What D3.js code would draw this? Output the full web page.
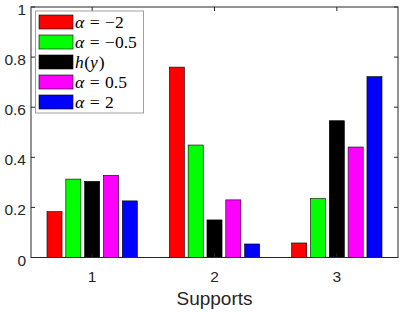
<!DOCTYPE html>
<html>
<head>
<meta charset="utf-8">
<script src="https://cdn.jsdelivr.net/npm/d3@7"></script>
<style>
  body { margin: 0; background: #fff; }
  text { font-family: "Liberation Sans", Arial, sans-serif; fill: #262626; }
  .math { font-family: "Liberation Serif", "DejaVu Serif", serif; fill: #000; }
</style>
</head>
<body>
<div id="chart"></div>
<script>
var groups = [1, 2, 3];
var seriesNames = ['a-2', 'a-0.5', 'h', 'a0.5', 'a2'];
var seriesColors = ['#ff0000', '#00ff00', '#000000', '#ff00ff', '#0000ff'];
// legend labels as tex-ish pieces: [text, italic?, dx]
var legendLabels = [
  [['α', true, 0], ['=', false, 5.5], ['−2', false, 5.5]],
  [['α', true, 0], ['=', false, 5.5], ['−0.5', false, 5.5]],
  [['h', true, 0], ['(', false, 0.5], ['y', true, 0], [')', false, 1]],
  [['α', true, 0], ['=', false, 5.5], ['0.5', false, 5.5]],
  [['α', true, 0], ['=', false, 5.5], ['2', false, 5.5]]
];
// values[series][group]
var values = [
  [0.183, 0.760, 0.058],
  [0.313, 0.449, 0.235],
  [0.304, 0.150, 0.546],
  [0.328, 0.230, 0.441],
  [0.226, 0.054, 0.722]
];
var yTicks = [0, 0.2, 0.4, 0.6, 0.8, 1];

var width = 400, height = 312;
var margin = { left: 31, right: 2, top: 7, bottom: 54.5 };

var svg = d3.select('#chart').append('svg')
  .attr('width', width)
  .attr('height', height);

var x = d3.scaleLinear().domain([0.5, 3.5]).range([margin.left, width - margin.right]);
var y = d3.scaleLinear().domain([0, 1]).range([height - margin.bottom, margin.top]);

// matlab-like grouped bar layout
var n = seriesNames.length;
var groupWidth = Math.min(0.8, n / (n + 1.5));
var barW = groupWidth / n * 0.8;

var barLayer = svg.append('g');
values.forEach(function(vals, si) {
  barLayer.selectAll('rect.s' + si).data(vals)
    .enter().append('rect')
    .attr('class', 's' + si)
    .attr('x', function(d, gi) {
      var c = groups[gi] - groupWidth / 2 + (si + 0.5) * groupWidth / n;
      return x(c - barW / 2);
    })
    .attr('width', x(barW) - x(0))
    .attr('y', function(d) { return y(d); })
    .attr('height', function(d) { return y(0) - y(d); })
    .attr('fill', seriesColors[si])
    .attr('stroke', '#000')
    .attr('stroke-width', 0.6);
});

// axes box
var x0 = x.range()[0], x1 = x.range()[1], y0 = y.range()[0], y1 = y.range()[1];
svg.append('rect')
  .attr('x', x0).attr('y', y1)
  .attr('width', x1 - x0).attr('height', y0 - y1)
  .attr('fill', 'none')
  .attr('stroke', '#262626')
  .attr('stroke-width', 1);

var tickLen = 4;
var axisG = svg.append('g').attr('stroke', '#262626').attr('stroke-width', 1);
yTicks.forEach(function(t) {
  axisG.append('line').attr('x1', x0).attr('x2', x0 + tickLen).attr('y1', y(t)).attr('y2', y(t));
  axisG.append('line').attr('x1', x1).attr('x2', x1 - tickLen).attr('y1', y(t)).attr('y2', y(t));
});
groups.forEach(function(g) {
  axisG.append('line').attr('x1', x(g)).attr('x2', x(g)).attr('y1', y0).attr('y2', y0 - tickLen);
  axisG.append('line').attr('x1', x(g)).attr('x2', x(g)).attr('y1', y1).attr('y2', y1 + tickLen);
});

svg.selectAll('text.ytick').data(yTicks)
  .enter().append('text')
  .attr('class', 'ytick')
  .attr('x', x0 - 5)
  .attr('y', function(d) { return y(d) + 8; })
  .attr('text-anchor', 'end')
  .attr('font-size', 15.5)
  .text(function(d) { return d3.format('~g')(d); });

svg.selectAll('text.xtick').data(groups)
  .enter().append('text')
  .attr('class', 'xtick')
  .attr('x', function(d) { return x(d); })
  .attr('y', y0 + 24)
  .attr('text-anchor', 'middle')
  .attr('font-size', 15.5)
  .text(function(d) { return d; });

svg.append('text')
  .attr('x', (x0 + x1) / 2)
  .attr('y', y0 + 47)
  .attr('text-anchor', 'middle')
  .attr('font-size', 19)
  .text('Supports');

// legend
var leg = svg.append('g');
leg.append('rect')
  .attr('x', 35.5).attr('y', 11)
  .attr('width', 108).attr('height', 102)
  .attr('fill', '#fff')
  .attr('stroke', '#a0a0a0')
  .attr('stroke-width', 1);

legendLabels.forEach(function(parts, i) {
  var cy = 22 + i * 20;
  leg.append('rect')
    .attr('x', 39).attr('y', cy - 7)
    .attr('width', 34).attr('height', 14)
    .attr('fill', seriesColors[i])
    .attr('stroke', '#000')
    .attr('stroke-width', 0.6);
  var t = leg.append('text')
    .attr('class', 'math')
    .attr('x', 75).attr('y', cy + 5.5)
    .attr('font-size', 17.5);
  parts.forEach(function(p) {
    t.append('tspan')
      .attr('dx', p[2])
      .attr('font-style', p[1] ? 'italic' : null)
      .text(p[0]);
  });
});
</script>
</body>
</html>
